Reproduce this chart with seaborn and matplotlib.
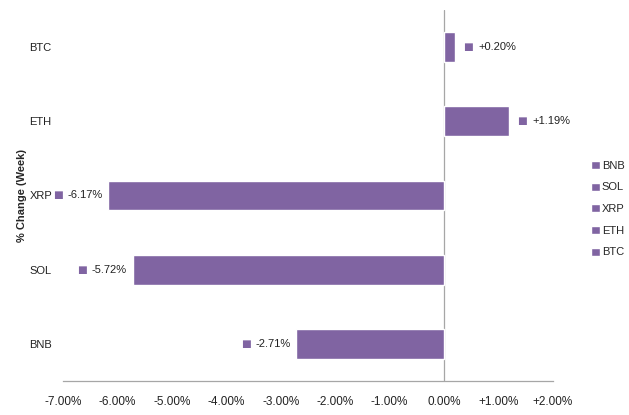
import matplotlib
matplotlib.use("Agg")
import matplotlib.pyplot as plt
from matplotlib.patches import Patch
import pandas as pd
import seaborn as sns

coins = ["BTC", "ETH", "XRP", "SOL", "BNB"]
weekly_change = [0.20, 1.19, -6.17, -5.72, -2.71]
x_ticks = [-7, -6, -5, -4, -3, -2, -1, 0, 1, 2]
legend_order = ["BNB", "SOL", "XRP", "ETH", "BTC"]

PURPLE = "#8064A2"
GREY = "#A6A6A6"

sns.set_theme(style="white")
plt.rcParams["font.family"] = ["Liberation Sans", "DejaVu Sans"]

df = pd.DataFrame({"coin": coins, "change": weekly_change})

fig = plt.figure(figsize=(6.29, 4.15), dpi=100)
ax = fig.add_axes([0.100, 0.082, 0.779, 0.894])

sns.barplot(data=df, x="change", y="coin", order=coins, orient="h",
            color=PURPLE, saturation=1, width=0.4, ax=ax)

ax.set_xlim(-7, 2)
ax.set_xticks(x_ticks)
ax.set_xticklabels(["0.00%" if t == 0 else f"{t:+.2f}%" for t in x_ticks],
                   fontsize=8.5, color="#222222")
ax.tick_params(axis="x", length=0, pad=11)
ax.tick_params(axis="y", length=0, pad=24)
for lbl in ax.get_yticklabels():
    lbl.set_horizontalalignment("left")
    lbl.set_fontsize(8)
    lbl.set_color("#222222")

for s in ["top", "right", "left"]:
    ax.spines[s].set_visible(False)
ax.spines["bottom"].set_color(GREY)
ax.spines["bottom"].set_linewidth(0.9)
ax.axvline(0, color=GREY, lw=0.9, zorder=0)

ax.set_xlabel("")
ax.set_ylabel("% Change (Week)", fontsize=8, fontweight="bold")
ax.yaxis.set_label_coords(-0.074, 0.5)

# data labels with small key squares
for i, v in enumerate(weekly_change):
    txt = f"{v:+.2f}%"
    if v >= 0:
        sq = ax.annotate("■", xy=(v, i), xytext=(6, 0), textcoords="offset points",
                         ha="left", va="center", color=PURPLE, fontsize=7.5,
                         family="DejaVu Sans")
        ax.annotate(txt, xy=(1, 0.5), xycoords=sq, xytext=(4, 0),
                    textcoords="offset points", ha="left", va="center",
                    fontsize=8, color="#222222")
    else:
        t = ax.annotate(txt, xy=(v, i), xytext=(-4, 0), textcoords="offset points",
                        ha="right", va="center", fontsize=8, color="#222222")
        ax.annotate("■", xy=(0, 0.5), xycoords=t, xytext=(-3.5, 0),
                    textcoords="offset points", ha="right", va="center",
                    color=PURPLE, fontsize=7.5, family="DejaVu Sans")

handles = [Patch(facecolor=PURPLE, label=c) for c in legend_order]
fig.legend(handles=handles, loc="center left", bbox_to_anchor=(0.933, 0.496),
           frameon=False, fontsize=8, handlelength=0.75, handleheight=0.75,
           handletextpad=0.2, labelspacing=1.05, borderaxespad=0)

fig.savefig("out.png", dpi=100)
